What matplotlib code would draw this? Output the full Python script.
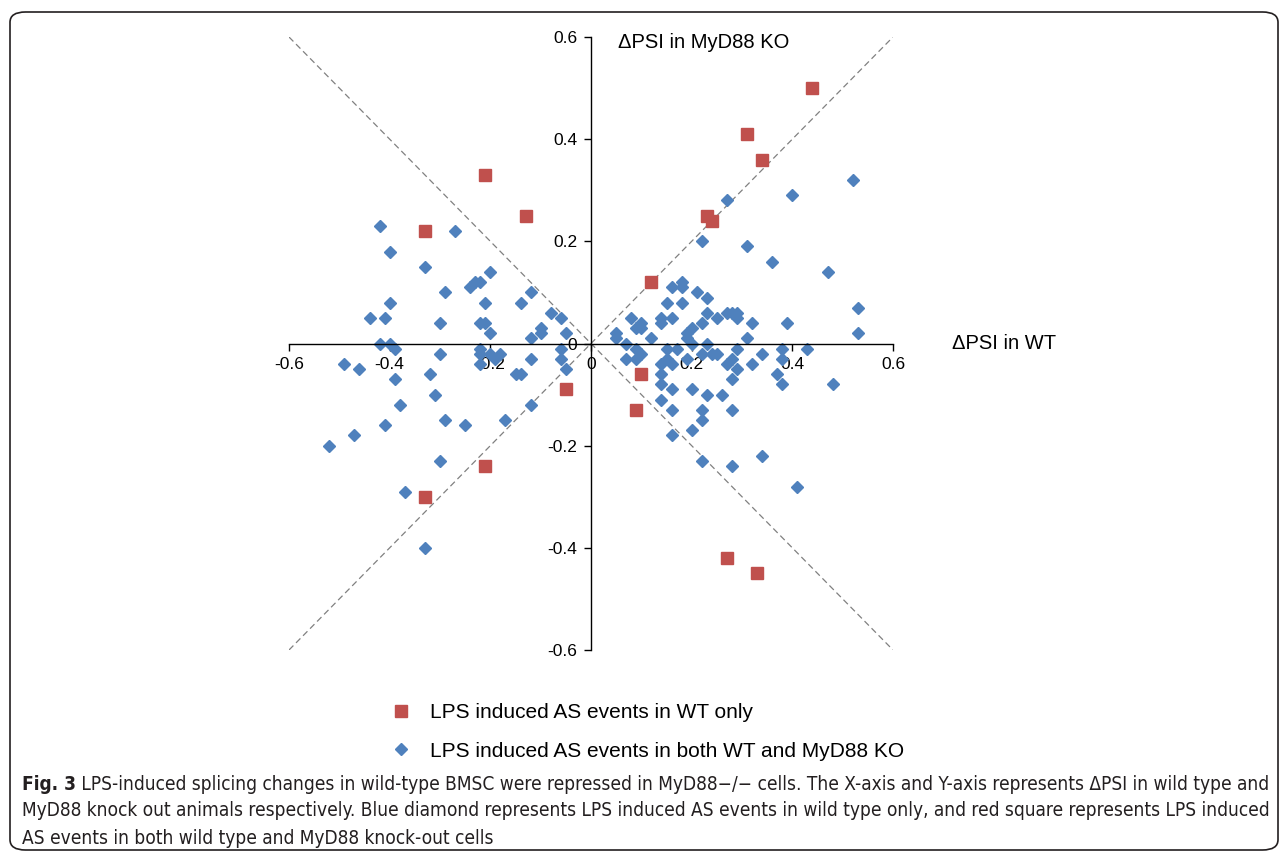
import matplotlib
matplotlib.use("Agg")
import matplotlib.pyplot as plt
from matplotlib.patches import FancyBboxPatch

plt.rcParams['font.family'] = ['Liberation Sans', 'DejaVu Sans']

# LPS induced AS events in WT only (red squares)
wt_only_x = [0.44, 0.31, 0.34, 0.23, 0.24, 0.12, -0.21, -0.13, -0.33, -0.05,
             0.10, 0.09, -0.21, -0.33, 0.27, 0.33]
wt_only_y = [0.50, 0.41, 0.36, 0.25, 0.24, 0.12, 0.33, 0.25, 0.22, -0.09,
             -0.06, -0.13, -0.24, -0.30, -0.42, -0.45]

# LPS induced AS events in both WT and MyD88 KO (blue diamonds)
both_x = [-0.42, -0.40, -0.27, -0.33, -0.29, -0.40, -0.44, -0.41, -0.30,
          -0.20, -0.24, -0.23, -0.22, -0.21, -0.22, -0.21, -0.20,
          -0.14, -0.12, -0.08, -0.06, -0.10, -0.10, -0.12, -0.05,
          -0.42, -0.40, -0.39, -0.30, -0.22, -0.22, -0.20, -0.18, -0.19, -0.22,
          -0.12, -0.06, -0.06, -0.05, -0.49, -0.46, -0.39, -0.32, -0.31, -0.38,
          -0.29, -0.25, -0.17, -0.12, -0.15, -0.14, -0.41, -0.47, -0.52, -0.30,
          -0.37, -0.33,
          0.52, 0.40, 0.27, 0.22, 0.31, 0.36, 0.47, 0.18, 0.16, 0.18, 0.21,
          0.23, 0.15, 0.18, 0.53, 0.08, 0.14, 0.16, 0.23, 0.27, 0.28, 0.29,
          0.29, 0.25, 0.10, 0.14, 0.09, 0.10, 0.22, 0.32, 0.39, 0.20, 0.53,
          0.05, 0.05, 0.12, 0.19, 0.19, 0.31, 0.07, 0.23, 0.20,
          0.09, 0.15, 0.17, 0.29, 0.38, 0.43, 0.07, 0.09, 0.10, 0.14, 0.15,
          0.16, 0.19, 0.22, 0.24, 0.25, 0.27, 0.28, 0.29, 0.32, 0.34, 0.38,
          0.37, 0.38, 0.48, 0.14, 0.28, 0.14, 0.16, 0.20, 0.23, 0.26, 0.14,
          0.16, 0.22, 0.28, 0.22, 0.20, 0.16, 0.22, 0.28, 0.34, 0.41]
both_y = [0.23, 0.18, 0.22, 0.15, 0.10, 0.08, 0.05, 0.05, 0.04,
          0.14, 0.11, 0.12, 0.12, 0.08, 0.04, 0.04, 0.02,
          0.08, 0.10, 0.06, 0.05, 0.03, 0.02, 0.01, 0.02,
          0.00, 0.00, -0.01, -0.02, -0.01, -0.02, -0.02, -0.02, -0.03, -0.04,
          -0.03, -0.01, -0.03, -0.05, -0.04, -0.05, -0.07, -0.06, -0.10, -0.12,
          -0.15, -0.16, -0.15, -0.12, -0.06, -0.06, -0.16, -0.18, -0.20, -0.23,
          -0.29, -0.40,
          0.32, 0.29, 0.28, 0.20, 0.19, 0.16, 0.14, 0.12, 0.11, 0.11, 0.10,
          0.09, 0.08, 0.08, 0.07, 0.05, 0.05, 0.05, 0.06, 0.06, 0.06, 0.06,
          0.05, 0.05, 0.04, 0.04, 0.03, 0.03, 0.04, 0.04, 0.04, 0.03, 0.02,
          0.02, 0.01, 0.01, 0.02, 0.01, 0.01, 0.00, 0.00, 0.00,
          -0.01, -0.01, -0.01, -0.01, -0.01, -0.01, -0.03, -0.03, -0.02, -0.04, -0.03,
          -0.04, -0.03, -0.02, -0.02, -0.02, -0.04, -0.03, -0.05, -0.04, -0.02, -0.03,
          -0.06, -0.08, -0.08, -0.06, -0.07, -0.08, -0.09, -0.09, -0.10, -0.10, -0.11,
          -0.13, -0.13, -0.13, -0.15, -0.17, -0.18, -0.23, -0.24, -0.22, -0.28]

ticks = [-0.6, -0.4, -0.2, 0, 0.2, 0.4, 0.6]
tick_labels = ['-0.6', '-0.4', '-0.2', '0', '0.2', '0.4', '0.6']

caption_bold = 'Fig. 3'
caption_lines = [
    ' LPS-induced splicing changes in wild-type BMSC were repressed in MyD88\u2212/\u2212 cells. '
    'The X-axis and Y-axis represents \u0394PSI in wild type and',
    'MyD88 knock out animals respectively. Blue diamond represents LPS induced AS events in '
    'wild type only, and red square represents LPS induced',
    'AS events in both wild type and MyD88 knock-out cells',
]

red = '#C0504D'
blue = '#4F81BD'

W, H = 1287, 860
fig = plt.figure(figsize=(W / 100, H / 100), dpi=100)
ax = fig.add_axes([289 / W, 1 - 650 / H, 604 / W, 613 / H])

# diagonal guide lines
ax.plot([-0.6, 0.6], [0.6, -0.6], '--', color='#808080', lw=0.9, dashes=(5, 3), zorder=1)
ax.plot([-0.6, 0.6], [-0.6, 0.6], '--', color='#808080', lw=0.9, dashes=(5, 3), zorder=1)

ax.plot(wt_only_x, wt_only_y, 's', color=red, ms=8.5, mec=red, ls='none',
        label='LPS induced AS events in WT only', zorder=3)
ax.plot(both_x, both_y, 'D', color=blue, ms=6, mec=blue, ls='none',
        label='LPS induced AS events in both WT and MyD88 KO', zorder=2)

ax.set_xlim(-0.6, 0.6)
ax.set_ylim(-0.6, 0.6)
for s in ['top', 'right']:
    ax.spines[s].set_visible(False)
ax.spines['left'].set_position(('data', 0))
ax.spines['bottom'].set_position(('data', 0))
ax.spines['left'].set_linewidth(1.0)
ax.spines['bottom'].set_linewidth(1.0)
ax.set_xticks(ticks)
ax.set_xticklabels(tick_labels)
ax.set_yticks(ticks)
ax.set_yticklabels(tick_labels)
ax.tick_params(direction='out', length=5, width=1, labelsize=12.5, pad=5)
ax.patch.set_visible(False)

ax.text(0.717, 0.0, '\u0394PSI in WT', fontsize=14.5, va='center', ha='left', clip_on=False)
ax.text(0.054, 0.59, '\u0394PSI in MyD88 KO', fontsize=14.5, va='center', ha='left', clip_on=False)

fig.legend(loc='upper left', bbox_to_anchor=(378 / W, 1 - 693 / H), frameon=False,
           fontsize=15, handlelength=1.2, handletextpad=0.8, labelspacing=0.92,
           borderpad=0, markerscale=1.0)

# border box
box = FancyBboxPatch((10 / W, 10 / H), 1268 / W, 838 / H,
                     boxstyle='round,pad=0,rounding_size=0.012', transform=fig.transFigure,
                     fill=False, ec='#231F20', lw=1.2)
fig.add_artist(box)

# caption, fitted to the box width
cap_col = '#231F20'
cap_kw = dict(family=['DejaVu Sans'], stretch='condensed', color=cap_col, va='center')
cap_y = [785, 811, 838]
t_bold = fig.text(22 / W, 1 - cap_y[0] / H, caption_bold, fontsize=13, fontweight='bold', **cap_kw)
t_rest = fig.text(80 / W, 1 - cap_y[0] / H, caption_lines[0], fontsize=13, **cap_kw)
t2 = fig.text(22 / W, 1 - cap_y[1] / H, caption_lines[1], fontsize=13, **cap_kw)
t3 = fig.text(22 / W, 1 - cap_y[2] / H, caption_lines[2], fontsize=13, **cap_kw)

r = fig.canvas.get_renderer()
need = 1268 - 22
have = t_bold.get_window_extent(r).width + t_rest.get_window_extent(r).width
scale = need / have
size = 13 * scale
for t in (t_bold, t_rest, t2, t3):
    t.set_fontsize(size)
bw = t_bold.get_window_extent(r).width
t_rest.set_x((22 + bw) / W)

fig.savefig('out.png', dpi=100)
